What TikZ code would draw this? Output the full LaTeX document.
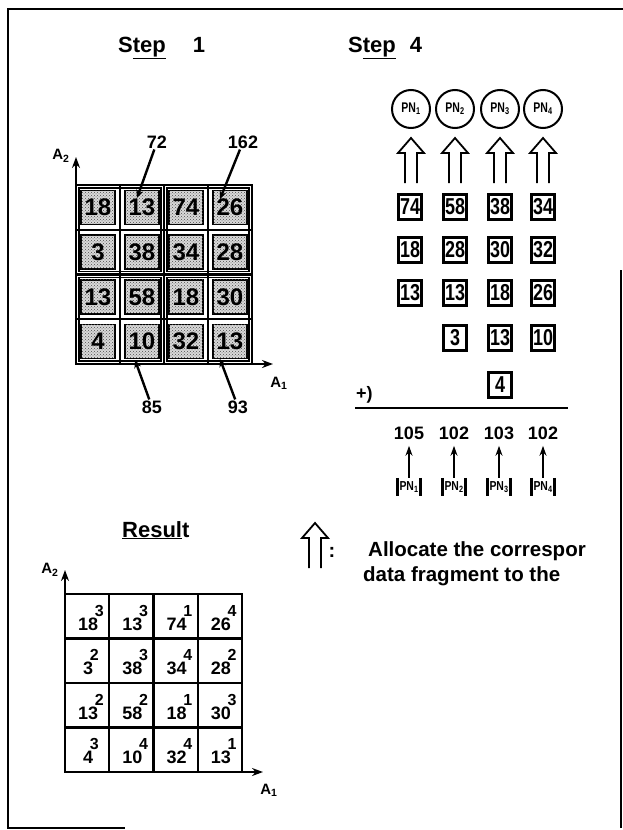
\documentclass[tikz,border=0pt]{standalone}
\usepackage{fontspec}
\setmainfont{Liberation Sans}
\usepackage{graphicx}
\usetikzlibrary{patterns,arrows.meta}
\newcommand\nrw[1]{\scalebox{0.78}[1]{#1}}
\newcommand\hup[4]{%
  \draw[hollow] (#1-6,#4) -- (#1-6,#3) -- (#1-13,#3) -- (#1,#2) -- (#1+13,#3) -- (#1+6,#3) -- (#1+6,#4);}
\tikzset{
  ttl/.style={anchor=base west, inner sep=0, font=\fontsize{22}{24}\selectfont\bfseries},
  gnum/.style={inner sep=0, font=\fontsize{24}{26}\selectfont\bfseries},
  lbl/.style={inner sep=1pt, font=\fontsize{18}{20}\selectfont\bfseries},
  axl/.style={inner sep=0, font=\fontsize{15}{17}\selectfont\bfseries},
  rnum/.style={inner sep=0, font=\fontsize{18}{20}\selectfont\bfseries},
  rsup/.style={inner sep=0, anchor=south, font=\fontsize{16}{18}\selectfont\bfseries},
  pbox/.style={draw, line width=2.2pt, minimum width=23pt, minimum height=25pt, inner sep=0, font=\fontsize{23}{25}\selectfont\bfseries},
  pn/.style={circle, draw, line width=2pt, minimum size=38pt, inner sep=0, font=\fontsize{14}{15}\selectfont\bfseries},
  pl/.style={inner xsep=2pt, inner ysep=0, minimum height=18pt, font=\fontsize{13}{14}\selectfont\bfseries},
  gridln/.style={line width=2.2pt},
  cellshade/.style={draw, line width=1.3pt, fill=gray!30, postaction={pattern=crosshatch dots, pattern color=black!70}},
  ptr/.style={line width=2.4pt, -{Stealth[length=8pt,width=7pt]}},
  axis/.style={line width=2.2pt, -{Stealth[length=11pt,width=8pt]}},
  hollow/.style={line width=1.8pt, line join=miter},
  smallarr/.style={line width=1.8pt, -{Stealth[length=10pt,width=7pt]}},
  frame/.style={line width=1.3pt},
  txt/.style={anchor=base west, inner sep=0, font=\fontsize{20.5}{22}\selectfont\bfseries},
}
\begin{document}
\begin{tikzpicture}[x=1pt,y=-1pt]
\useasboundingbox (0,0) rectangle (623,830);
% frame
\draw[frame] (623,9) -- (8,9) -- (8,828) -- (125,828);
\draw[frame] (621,270) -- (621,828);

% ---------------- Step 1 ----------------
\node[ttl] (t1) at (118,52) {S\underline{tep}\hspace{27pt}1};
\foreach [count=\i] \row in {{18,13,74,26},{3,38,34,28},{13,58,18,30},{4,10,32,13}} {
  \foreach [count=\j] \v in \row {
    \pgfmathsetmacro\cx{76+44*(\j-0.5)}
    \pgfmathsetmacro\cy{185+44.75*(\i-0.5)}
    \path[cellshade] (\cx-17,\cy-17) rectangle (\cx+17,\cy+17);
    \node[gnum] (s\i\j) at (\cx,\cy) {\v};
  }
}
\draw[gridln] (76,185) rectangle (252,364);
\foreach \gx in {120,164,208} \draw[gridln] (\gx,185) -- (\gx,364);
\foreach \gy in {230,274.5,319} \draw[gridln] (76,\gy) -- (252,\gy);
\foreach \qx/\qy in {79/188,167/188,79/277.5,167/277.5}
  \draw[line width=1.5pt] (\qx,\qy) rectangle (\qx+82,\qy+83.5);
\coordinate (o1) at (76,364);
\coordinate (a2t) at (76,157);
\coordinate (a1t) at (273,364);
\draw[axis] (o1) -- (a2t);
\draw[axis] (o1) -- (a1t);
\node[axl] (A2s1) at (61,156) {A\textsubscript{2}};
\node[axl] (A1s1) at (279,383) {A\textsubscript{1}};
\node[lbl] (l72) at (157,142) {72};
\node[lbl] (l162) at (243,142) {162};
\node[lbl] (l85) at (152,407) {85};
\node[lbl] (l93) at (238,407) {93};
\coordinate (p72) at (137,198);
\coordinate (p162) at (220,199);
\coordinate (p85) at (135,360);
\coordinate (p93) at (220,359);
\draw[ptr] (l72) -- (p72);
\draw[ptr] (l162) -- (p162);
\draw[ptr] (l85) -- (p85);
\draw[ptr] (l93) -- (p93);

% ---------------- Step 4 ----------------
\node[ttl] (t4) at (348,52) {S\underline{tep}\hspace{14pt}4};
\foreach \k/\x in {1/411,2/455,3/500,4/543} {
  \node[pn] (pn\k) at (\x,109) {\scalebox{0.75}[1]{PN\textsubscript{\k}}};
  \hup{\x}{138}{153}{183}
}
\foreach \r/\y/\vals in {1/207/{74,58,38,34},2/250/{18,28,30,32},3/293/{13,13,18,26}} {
  \foreach [count=\k] \v in \vals {
    \pgfmathsetmacro\bx{\k==1 ? 410 : (\k==2 ? 455 : (\k==3 ? 500 : 543))}
    \node[pbox] (b\r\k) at (\bx,\y) {\nrw{\v}};
  }
}
\node[pbox] (b42) at (455,338) {\nrw{3}};
\node[pbox] (b43) at (500,338) {\nrw{13}};
\node[pbox] (b44) at (543,338) {\nrw{10}};
\node[pbox] (b53) at (500,385) {\nrw{4}};
\node[lbl, anchor=base west, inner sep=0] (plus) at (356,399) {+)};
\coordinate (hl) at (355,408);
\coordinate (hr) at (568,408);
\draw[line width=1.8pt] (hl) -- (hr);
\foreach \k/\x/\s in {1/409/105,2/454/102,3/499/103,4/543/102} {
  \node[lbl, inner sep=0] (sum\k) at (\x,433) {\s};
  \node[pl] (pl\k) at (\x,487) {\scalebox{0.8}[1]{PN\textsubscript{\k}}};
  \draw[line width=2.4pt] (pl\k.north west) -- (pl\k.south west);
  \draw[line width=2.4pt] (pl\k.north east) -- (pl\k.south east);
  \draw[smallarr] (pl\k.north) -- ++(0,-32);
}

% legend
\hup{315}{523}{538}{568}
\node[inner sep=0, font=\fontsize{20}{22}\selectfont\bfseries] (colon) at (332,552) {:};
\node[txt] (leg1) at (368,556) {Allocate the correspor};
\node[txt] (leg2) at (363,581) {data fragment to the};

% ---------------- Result ----------------
\node[ttl] (tr) at (122,537) {\underline{Resul}t};
\foreach [count=\i] \row in {{18/3,13/3,74/1,26/4},{3/2,38/3,34/4,28/2},{13/2,58/2,18/1,30/3},{4/3,10/4,32/4,13/1}} {
  \foreach [count=\j] \v/\p in \row {
    \pgfmathsetmacro\cx{65+44.25*(\j-0.5)}
    \pgfmathsetmacro\cy{594+44.5*(\i-0.5)}
    \node[rnum] (r\i\j) at (\cx+1,\cy+8) {\v};
    \node[rsup] (q\i\j) at ([xshift=1pt, yshift=1pt]r\i\j.north east) {\p};
  }
}
\draw[gridln] (65,594) rectangle (242,772);
\foreach \gx in {109.25,153.5,197.75} \draw[gridln] (\gx,594) -- (\gx,772);
\foreach \gy in {638.5,683,727.5} \draw[gridln] (65,\gy) -- (242,\gy);
\coordinate (o2) at (65,772);
\coordinate (b2t) at (65,570);
\coordinate (b1t) at (263,772);
\draw[axis] (o2) -- (b2t);
\draw[axis] (o2) -- (b1t);
\node[axl] (A2r) at (50,570) {A\textsubscript{2}};
\node[axl] (A1r) at (269,790) {A\textsubscript{1}};
\end{tikzpicture}
\end{document}
